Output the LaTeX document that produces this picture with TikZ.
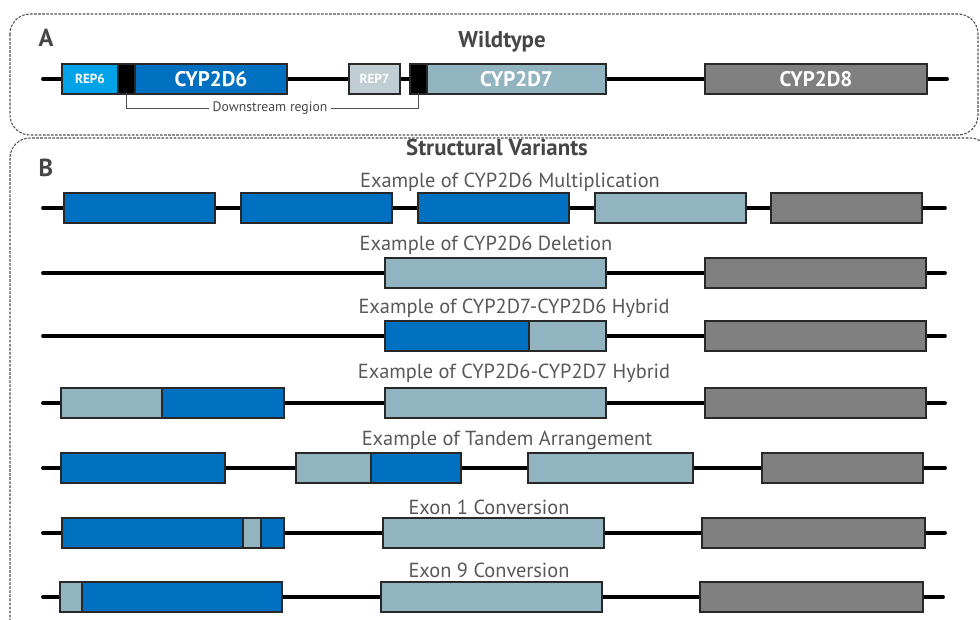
\documentclass[tikz,border=0pt]{standalone}
\usepackage{fontspec}
\setmainfont{PT Sans}
\usepackage{tikz}
\usetikzlibrary{positioning}
\definecolor{cyp_six}{RGB}{0,112,192}
\definecolor{cyp_seven}{RGB}{146,180,192}
\definecolor{cyp_eight}{RGB}{128,128,128}
\definecolor{rep_six}{RGB}{0,162,232}
\definecolor{rep_seven}{RGB}{192,206,212}
\definecolor{box_line}{RGB}{40,40,40}
\definecolor{text_gray}{RGB}{70,70,70}
\definecolor{frame_gray}{RGB}{80,80,80}

\begin{document}
\begin{tikzpicture}[x=0.02cm,y=-0.02cm]
    \tikzstyle{gene}=[draw=box_line, line width=0.7pt, minimum height=0.6cm, inner sep=0pt, outer sep=0pt, anchor=west, text=white, font=\bfseries\fontsize{12}{14}\selectfont]
    \tikzstyle{rep}=[gene, font=\bfseries\fontsize{7.5}{9}\selectfont]
    \tikzstyle{backbone}=[line width=2.2pt, line cap=round, black]
    \tikzstyle{panel}=[draw=frame_gray, dash pattern=on 1.5pt off 0.8pt, line width=0.6pt, rounded corners=0.4cm]
    \tikzstyle{title}=[text=text_gray, font=\bfseries\fontsize{13}{15}\selectfont]
    \tikzstyle{letter}=[text=text_gray, font=\bfseries\fontsize{14}{16}\selectfont]
    \tikzstyle{caption}=[text=text_gray!90, font=\fontsize{11.6}{13}\selectfont]

    \clip (0,0) rectangle (980,619);

    % panels
    \draw[panel] (10,14) rectangle (978,135);
    \draw[panel] (10,138) rectangle (990,640);
    \node[letter] (la) at (46,38)  {A};
    \node[title]  (ta) at (502,42) {Wildtype};
    \node[letter] (lb) at (46,168) {B};
    \node[title]  (tb) at (497,148) {Structural Variants};

    % wildtype
    \coordinate (wl) at (43,79);  \coordinate (wr) at (947,79);
    \draw[backbone] (wl) -- (wr);
    \node[rep,  fill=rep_six,   minimum width=1.12cm] (rep6)  at (62,79)  {REP6};
    \node[gene, fill=black,     minimum width=0.34cm] (blk6)  at (118,79) {};
    \node[gene, fill=cyp_six,   minimum width=3.04cm] (cyp6)  at (135,79) {CYP2D6};
    \node[rep,  fill=rep_seven, minimum width=1.02cm] (rep7)  at (349,79) {REP7};
    \node[gene, fill=black,     minimum width=0.34cm] (blk7)  at (410,79) {};
    \node[gene, fill=cyp_seven, minimum width=3.58cm] (cyp7)  at (427,79) {CYP2D7};
    \node[gene, fill=cyp_eight, minimum width=4.44cm] (cyp8)  at (705,79) {CYP2D8};
    \node[text=text_gray, font=\fontsize{7.8}{9}\selectfont, inner sep=2pt] (down) at (270,108) {Downstream region};
    \draw[frame_gray, line width=0.5pt] (blk6.south) |- (down.west);
    \draw[frame_gray, line width=0.5pt] (down.east) -| (blk7.south);

    % multiplication
    \node[caption] (c1) at (510,182) {Example of CYP2D6 Multiplication};
    \coordinate (l1) at (43,208);  \coordinate (r1) at (945,208);
    \draw[backbone] (l1) -- (r1);
    \node[gene, fill=cyp_six,   minimum width=3.02cm] (m1) at (64,208)  {};
    \node[gene, fill=cyp_six,   minimum width=3.02cm] (m2) at (241,208) {};
    \node[gene, fill=cyp_six,   minimum width=3.02cm] (m3) at (418,208) {};
    \node[gene, fill=cyp_seven, minimum width=3.02cm] (m4) at (595,208) {};
    \node[gene, fill=cyp_eight, minimum width=3.02cm] (m5) at (771,208) {};

    % deletion
    \node[caption] (c2) at (486,245) {Example of CYP2D6 Deletion};
    \coordinate (l2) at (43,273);  \coordinate (r2) at (945,273);
    \draw[backbone] (l2) -- (r2);
    \node[gene, fill=cyp_seven, minimum width=4.42cm] (d1) at (385,273) {};
    \node[gene, fill=cyp_eight, minimum width=4.42cm] (d2) at (705,273) {};

    % 2D7-2D6 hybrid
    \node[caption] (c3) at (514,308) {Example of CYP2D7-CYP2D6 Hybrid};
    \coordinate (l3) at (43,336);  \coordinate (r3) at (945,336);
    \draw[backbone] (l3) -- (r3);
    \node[gene, fill=cyp_six,   minimum width=2.88cm] (ha1) at (385,336) {};
    \node[gene, fill=cyp_seven, minimum width=1.54cm] (ha2) at (529,336) {};
    \node[gene, fill=cyp_eight, minimum width=4.42cm] (ha3) at (705,336) {};

    % 2D6-2D7 hybrid
    \node[caption] (c4) at (514,373) {Example of CYP2D6-CYP2D7 Hybrid};
    \coordinate (l4) at (43,403);  \coordinate (r4) at (945,403);
    \draw[backbone] (l4) -- (r4);
    \node[gene, fill=cyp_seven, minimum width=2.02cm] (hb1) at (61,403)  {};
    \node[gene, fill=cyp_six,   minimum width=2.44cm] (hb2) at (162,403) {};
    \node[gene, fill=cyp_seven, minimum width=4.42cm] (hb3) at (385,403) {};
    \node[gene, fill=cyp_eight, minimum width=4.42cm] (hb4) at (705,403) {};

    % tandem
    \node[caption] (c5) at (507,440) {Example of Tandem Arrangement};
    \coordinate (l5) at (43,468);  \coordinate (r5) at (945,468);
    \draw[backbone] (l5) -- (r5);
    \node[gene, fill=cyp_six,   minimum width=3.28cm] (t1) at (61,468)  {};
    \node[gene, fill=cyp_seven, minimum width=1.50cm] (t2) at (296,468) {};
    \node[gene, fill=cyp_six,   minimum width=1.80cm] (t3) at (371,468) {};
    \node[gene, fill=cyp_seven, minimum width=3.30cm] (t4) at (528,468) {};
    \node[gene, fill=cyp_eight, minimum width=3.22cm] (t5) at (762,468) {};

    % exon 1
    \node[caption] (c6) at (489,507) {Exon 1 Conversion};
    \coordinate (l6) at (43,533);  \coordinate (r6) at (945,533);
    \draw[backbone] (l6) -- (r6);
    \node[gene, fill=cyp_six,   minimum width=3.62cm] (ea1) at (62,533)  {};
    \node[gene, fill=cyp_seven, minimum width=0.36cm] (ea2) at (243,533) {};
    \node[gene, fill=cyp_six,   minimum width=0.46cm] (ea3) at (261,533) {};
    \node[gene, fill=cyp_seven, minimum width=4.42cm] (ea4) at (383,533) {};
    \node[gene, fill=cyp_eight, minimum width=4.46cm] (ea5) at (702,533) {};

    % exon 9
    \node[caption] (c7) at (489,570) {Exon 9 Conversion};
    \coordinate (l7) at (43,597);  \coordinate (r7) at (943,597);
    \draw[backbone] (l7) -- (r7);
    \node[gene, fill=cyp_seven, minimum width=0.44cm] (eb1) at (60,597)  {};
    \node[gene, fill=cyp_six,   minimum width=4.00cm] (eb2) at (82,597)  {};
    \node[gene, fill=cyp_seven, minimum width=4.42cm] (eb3) at (381,597) {};
    \node[gene, fill=cyp_eight, minimum width=4.46cm] (eb4) at (700,597) {};
  \end{tikzpicture}
\end{document}
